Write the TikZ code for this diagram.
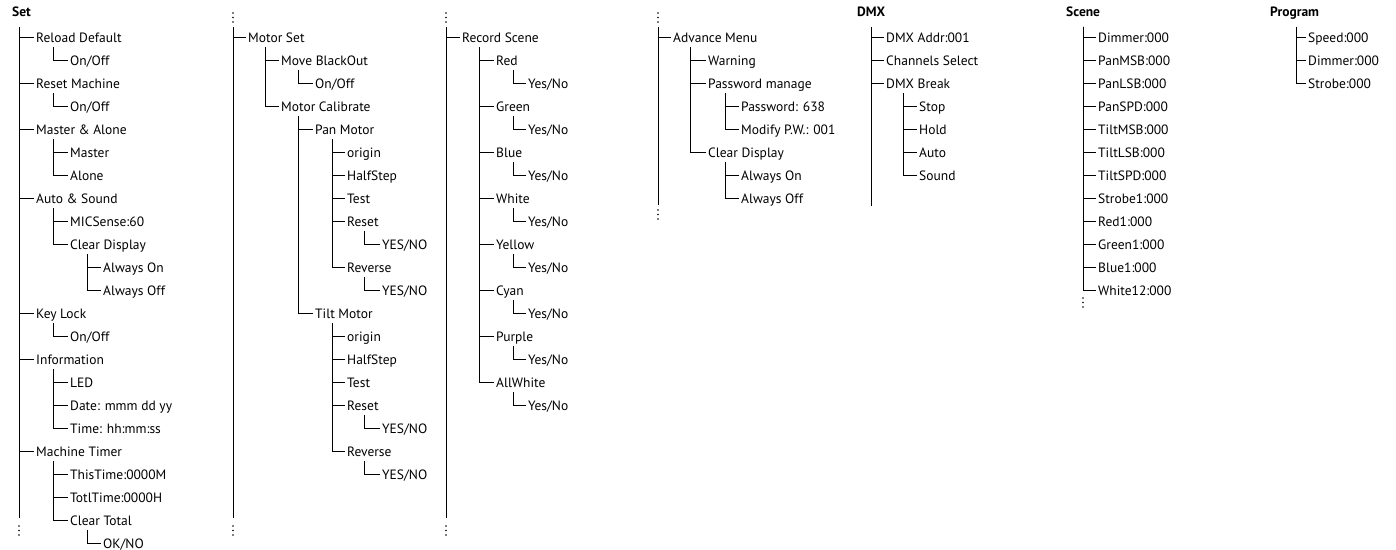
\documentclass[tikz,border=0pt]{standalone}
\usepackage{fontspec}
\setmainfont{PT Sans}
\usepackage{tikz}

\tikzset{
  entry/.style={anchor=west, inner xsep=2pt, inner ysep=0pt, text height=10pt, text depth=0pt,
    font=\fontsize{13.5}{16}\selectfont},
  head/.style={entry, font=\fontsize{13.5}{16}\selectfont\bfseries},
  twig/.style={line width=1pt},
}
% branch from a parent down to one child
\newcommand\twig[2]{\draw[twig] ([xshift=19.5pt,yshift=-10pt]#1.west) |- (#2.west);}
% three dots where a line goes on
\newcommand\trail[2]{\foreach \k in {0,1,2} {\fill (#1,#2+0.195*\k) circle (0.85pt);}}

\begin{document}
\begin{tikzpicture}
  \useasboundingbox (0,0) rectangle (1396pt,-549pt);
  \begin{scope}[x=1pt, y=-23pt, yshift=-14pt]
    % Set
    \node[head] (set) at (10,-0.09) {Set};
    \node[entry] (reload) at (34,1) {Reload Default};
    \node[entry] (reloadsw) at (68,2) {On/Off};
    \node[entry] (resetm) at (34,3) {Reset Machine};
    \node[entry] (resetsw) at (68,4) {On/Off};
    \node[entry] (masteralone) at (34,5) {Master \& Alone};
    \node[entry] (master) at (68,6) {Master};
    \node[entry] (alone) at (68,7) {Alone};
    \node[entry] (autosound) at (34,8) {Auto \& Sound};
    \node[entry] (micsense) at (68,9) {MICSense:60};
    \node[entry] (cleardisp) at (68,10) {Clear Display};
    \node[entry] (alwayson) at (101,11) {Always On};
    \node[entry] (alwaysoff) at (101,12) {Always Off};
    \node[entry] (keylock) at (34,13) {Key Lock};
    \node[entry] (keysw) at (68,14) {On/Off};
    \node[entry] (info) at (34,15) {Information};
    \node[entry] (led) at (68,16) {LED};
    \node[entry] (date) at (68,17) {Date: mmm dd yy};
    \node[entry] (time) at (68,18) {Time: hh:mm:ss};
    \node[entry] (timer) at (34,19) {Machine Timer};
    \node[entry] (thistime) at (68,20) {ThisTime:0000M};
    \node[entry] (totltime) at (68,21) {TotlTime:0000H};
    \node[entry] (cleartotal) at (68,22) {Clear Total};
    \node[entry] (okno) at (101,23) {OK/NO};

    \coordinate (settop) at (19,0.565);
    \coordinate (setbot) at (19,21.91);
    \draw[twig] (settop) -- (setbot);
    \foreach \c in {reload,resetm,masteralone,autosound,keylock,info,timer}
      {\draw[twig] (settop |- \c.west) -- (\c.west);}
    \twig{reload}{reloadsw}
    \twig{resetm}{resetsw}
    \twig{masteralone}{master}
    \twig{masteralone}{alone}
    \twig{autosound}{micsense}
    \twig{autosound}{cleardisp}
    \twig{cleardisp}{alwayson}
    \twig{cleardisp}{alwaysoff}
    \twig{keylock}{keysw}
    \foreach \c in {led,date,time} {\twig{info}{\c}}
    \foreach \c in {thistime,totltime,cleartotal} {\twig{timer}{\c}}
    \twig{cleartotal}{okno}
    \trail{19}{22.26}

    % Motor Set
    \node[entry] (motorset) at (246,1) {Motor Set};
    \node[entry] (blackout) at (279,2) {Move BlackOut};
    \node[entry] (blackoutsw) at (313,3) {On/Off};
    \node[entry] (calibrate) at (279,4) {Motor Calibrate};
    \node[entry] (pan) at (313,5) {Pan Motor};
    \node[entry] (panorigin) at (345,6) {origin};
    \node[entry] (panhalf) at (345,7) {HalfStep};
    \node[entry] (pantest) at (345,8) {Test};
    \node[entry] (panreset) at (345,9) {Reset};
    \node[entry] (panresetyn) at (380,10) {YES/NO};
    \node[entry] (panrev) at (345,11) {Reverse};
    \node[entry] (panrevyn) at (380,12) {YES/NO};
    \node[entry] (tilt) at (313,13) {Tilt Motor};
    \node[entry] (tiltorigin) at (345,14) {origin};
    \node[entry] (tilthalf) at (345,15) {HalfStep};
    \node[entry] (tilttest) at (345,16) {Test};
    \node[entry] (tiltreset) at (345,17) {Reset};
    \node[entry] (tiltresetyn) at (380,18) {YES/NO};
    \node[entry] (tiltrev) at (345,19) {Reverse};
    \node[entry] (tiltrevyn) at (380,20) {YES/NO};

    \coordinate (motortop) at (233,0.565);
    \coordinate (motorbot) at (233,21.91);
    \trail{233}{-0.04}
    \draw[twig] (motortop) -- (motorbot);
    \draw[twig] (motortop |- motorset.west) -- (motorset.west);
    \twig{motorset}{blackout}
    \twig{motorset}{calibrate}
    \twig{blackout}{blackoutsw}
    \twig{calibrate}{pan}
    \twig{calibrate}{tilt}
    \foreach \c in {panorigin,panhalf,pantest,panreset,panrev} {\twig{pan}{\c}}
    \foreach \c in {tiltorigin,tilthalf,tilttest,tiltreset,tiltrev} {\twig{tilt}{\c}}
    \twig{panreset}{panresetyn}
    \twig{panrev}{panrevyn}
    \twig{tiltreset}{tiltresetyn}
    \twig{tiltrev}{tiltrevyn}
    \trail{233}{22.26}

    % Record Scene
    \node[entry] (record) at (460,1) {Record Scene};
    \coordinate (recordtop) at (446,0.565);
    \coordinate (recordbot) at (446,21.91);
    \trail{446}{-0.04}
    \draw[twig] (recordtop) -- (recordbot);
    \draw[twig] (recordtop |- record.west) -- (record.west);
    \foreach \c/\r in {Red/2,Green/4,Blue/6,White/8,Yellow/10,Cyan/12,Purple/14,AllWhite/16} {
      \node[entry] (\c) at (494,\r) {\c};
      \node[entry] (\c yn) at (526,\r+1) {Yes/No};
      \twig{record}{\c}
      \twig{\c}{\c yn}
    }
    \trail{446}{22.26}

    % Advance Menu
    \node[entry] (advance) at (671,1) {Advance Menu};
    \node[entry] (warning) at (706,2) {Warning};
    \node[entry] (pwmanage) at (706,3) {Password manage};
    \node[entry] (password) at (739,4) {Password: 638};
    \node[entry] (modifypw) at (739,5) {Modify P.W.: 001};
    \node[entry] (cleardispb) at (706,6) {Clear Display};
    \node[entry] (alwaysonb) at (739,7) {Always On};
    \node[entry] (alwaysoffb) at (739,8) {Always Off};

    \coordinate (advtop) at (658,0.565);
    \coordinate (advbot) at (658,8.3);
    \trail{658}{-0.04}
    \draw[twig] (advtop) -- (advbot);
    \draw[twig] (advtop |- advance.west) -- (advance.west);
    \foreach \c in {warning,pwmanage,cleardispb} {\twig{advance}{\c}}
    \twig{pwmanage}{password}
    \twig{pwmanage}{modifypw}
    \twig{cleardispb}{alwaysonb}
    \twig{cleardispb}{alwaysoffb}
    \trail{658}{8.52}

    % DMX
    \node[head] (dmx) at (855,-0.09) {DMX};
    \node[entry] (dmxaddr) at (884,1) {DMX Addr:001};
    \node[entry] (channels) at (884,2) {Channels Select};
    \node[entry] (dmxbreak) at (884,3) {DMX Break};
    \node[entry] (stop) at (917,4) {Stop};
    \node[entry] (hold) at (917,5) {Hold};
    \node[entry] (auto) at (917,6) {Auto};
    \node[entry] (sound) at (917,7) {Sound};

    \coordinate (dmxtop) at (871,0.565);
    \coordinate (dmxbot) at (871,8.35);
    \draw[twig] (dmxtop) -- (dmxbot);
    \foreach \c in {dmxaddr,channels,dmxbreak}
      {\draw[twig] (dmxtop |- \c.west) -- (\c.west);}
    \foreach \c in {stop,hold,auto,sound} {\twig{dmxbreak}{\c}}

    % Scene
    \node[head] (scene) at (1064,-0.09) {Scene};
    \coordinate (scenetop) at (1083,0.565);
    \foreach \t [count=\r] in {Dimmer:000,PanMSB:000,PanLSB:000,PanSPD:000,TiltMSB:000,TiltLSB:000,
        TiltSPD:000,Strobe1:000,Red1:000,Green1:000,Blue1:000,White12:000} {
      \node[entry] (scene\r) at (1096,\r) {\t};
      \draw[twig] (scenetop) |- (scene\r.west);
    }
    \trail{1083}{12.35}

    % Program
    \node[head] (program) at (1268,-0.09) {Program};
    \coordinate (progtop) at (1296,0.565);
    \foreach \t [count=\r] in {Speed:000,Dimmer:000,Strobe:000} {
      \node[entry] (prog\r) at (1306,\r) {\t};
      \draw[twig] (progtop) |- (prog\r.west);
    }
  \end{scope}
\end{tikzpicture}
\end{document}
